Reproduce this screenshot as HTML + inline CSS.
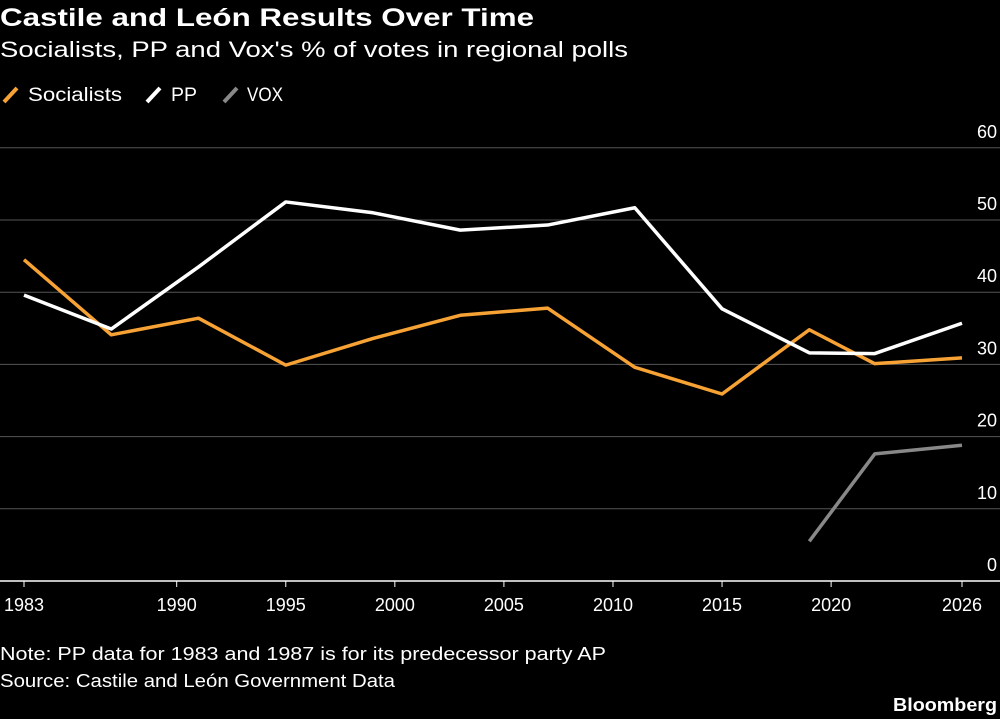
<!DOCTYPE html>
<html><head><meta charset="utf-8"><style>
body{margin:0;background:#000;width:1000px;height:719px;overflow:hidden;font-family:"Liberation Sans",sans-serif;color:#fff}
svg{position:absolute;left:0;top:0}
</style></head><body>
<svg width="1000" height="719">
<text x="0" y="26" font-size="25" font-weight="bold" fill="#fff" textLength="534" lengthAdjust="spacingAndGlyphs">Castile and León Results Over Time</text>
<text x="0" y="57" font-size="22" fill="#fff" textLength="628" lengthAdjust="spacingAndGlyphs">Socialists, PP and Vox's % of votes in regional polls</text>
<g>
<line x1="4" y1="102" x2="17" y2="88" stroke="#f7a234" stroke-width="4"/>
<text x="28" y="101" font-size="19" fill="#fff" textLength="94" lengthAdjust="spacingAndGlyphs">Socialists</text>
<line x1="147" y1="102" x2="160" y2="88" stroke="#fff" stroke-width="4"/>
<text x="171" y="101" font-size="19" fill="#fff" textLength="26" lengthAdjust="spacingAndGlyphs">PP</text>
<line x1="224" y1="102" x2="237" y2="88" stroke="#888" stroke-width="4"/>
<text x="247" y="101" font-size="19" fill="#fff" textLength="36" lengthAdjust="spacingAndGlyphs">VOX</text>
</g>
<g id="grid"></g><g id="series"></g>
<text x="0" y="660" font-size="18" fill="#fff" textLength="606" lengthAdjust="spacingAndGlyphs">Note: PP data for 1983 and 1987 is for its predecessor party AP</text>
<text x="0" y="687" font-size="18" fill="#fff" textLength="395" lengthAdjust="spacingAndGlyphs">Source: Castile and León Government Data</text>
<text x="893" y="711" font-size="18" font-weight="bold" fill="#fff" textLength="104" lengthAdjust="spacingAndGlyphs">Bloomberg</text>
</svg>
<script>
const years=[1983,1987,1991,1995,1999,2003,2007,2011,2015,2019,2022,2026];
const socialists=[44.5,34.1,36.4,29.9,33.6,36.8,37.8,29.6,25.9,34.8,30.1,30.9];
const pp=[39.6,34.9,43.5,52.5,51.0,48.6,49.3,51.7,37.7,31.6,31.5,35.7];
const voxYears=[2019,2022,2026];
const vox=[5.5,17.6,18.8];
const yTicks=[0,10,20,30,40,50,60];
const xTicks=[1983,1990,1995,2000,2005,2010,2015,2020,2026];
const NS='http://www.w3.org/2000/svg';
const x=v=>24+(v-1983)*(938/43);
const y=v=>581-v*7.22;
const g=document.getElementById('grid'),s=document.getElementById('series');
function mk(t,a,p){const e=document.createElementNS(NS,t);for(const k in a)e.setAttribute(k,a[k]);p.appendChild(e);return e;}
yTicks.forEach(t=>{
 if(t>0){const l=mk('line',{x1:0,x2:1000,y1:y(t),y2:y(t),stroke:'#555','stroke-width':1},g);
 
 }
 const tx=mk('text',{x:997,y:y(t)-10,'font-size':18,fill:'#fff','text-anchor':'end'},g);tx.textContent=t;
 
 
});
const b=mk('line',{x1:0,x2:1000,y1:581,y2:581,stroke:'#fff','stroke-width':1.5},g);


xTicks.forEach(t=>{
 mk('line',{x1:x(t),x2:x(t),y1:581,y2:587,stroke:'#fff'},g);
 const tx=mk('text',{x:x(t),y:611,'font-size':18,fill:'#fff','text-anchor':'middle'},g);tx.textContent=t;
 
 
});
function line(xs,vs,c,n){const p=mk('polyline',{points:xs.map((v,i)=>x(v)+','+y(vs[i])).join(' '),fill:'none',stroke:c,'stroke-width':3.5,'stroke-linejoin':'round'},s);
 
 }
line(voxYears,vox,'#888','vox-line');
line(years,socialists,'#f7a234','socialists-line');
line(years,pp,'#fff','pp-line');
</script>
</body></html>
